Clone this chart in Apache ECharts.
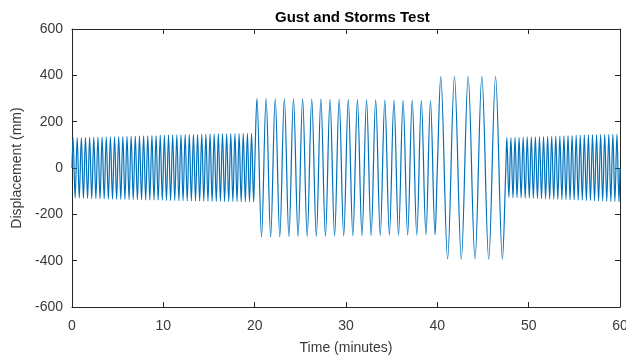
<!DOCTYPE html>
<html>
<head>
<meta charset="UTF-8">
<title>Gust and Storms Test</title>
<script src="https://cdn.jsdelivr.net/npm/echarts@6/dist/echarts.min.js"></script>
<style>
  html, body { margin: 0; padding: 0; background: #fff; }
  #main { width: 626px; height: 358px; }
</style>
</head>
<body>
<div id="main"></div>
<script>
// segments of the test (minutes)
var segStart = [0, 20, 40, 47.5];
var segEnd = [20, 40, 47.5, 60];

// peak / trough displacement of each cycle (mm)
var seg1Peaks = [130,131,131,132,132,133,133,134,134,135,135,136,136,137,137,138,138,139,139,140,
                 140,141,141,142,142,143,143,144,144,145,145,146,146,147,147,148,148,148,149,149,
                 149,150,150,150];
var seg1Troughs = [-130,-130,-131,-131,-132,-132,-133,-133,-134,-134,-135,-135,-135,-136,-136,-137,-137,-138,-138,-138,
                   -139,-139,-140,-140,-140,-141,-141,-142,-142,-142,-143,-143,-143,-144,-144,-144,-145,-145,-145,-145,
                   -146,-146,-146,-146];
var seg2Peaks = [300,300,299,299,298,298,297,297,296,296,295,295,294,294,293,293,292,292,291,290];
var seg2Troughs = [-297,-297,-296,-296,-295,-295,-294,-294,-293,-293,-292,-292,-291,-291,-290,-290,-289,-289,-288,-288];
var seg3Peaks = [395,396,395,396,395];
var seg3Troughs = [-392,-393,-392,-393,-393];
var seg4Peaks = [131,131,132,132,133,134,134,135,135,136,137,137,138,138,139,140,140,141,141,142,
                 143,143,144,144,145,145,146,146];
var seg4Troughs = [-127,-128,-128,-129,-130,-130,-131,-132,-132,-133,-134,-134,-135,-136,-136,-137,-138,-138,-139,-140,
                   -140,-141,-142,-142,-143,-144,-144,-145];

var xTicks = [0, 10, 20, 30, 40, 50, 60];
var yTicks = [-600, -400, -200, 0, 200, 400, 600];

var peaks = [seg1Peaks, seg2Peaks, seg3Peaks, seg4Peaks];
var troughs = [seg1Troughs, seg2Troughs, seg3Troughs, seg4Troughs];

// one point per peak and trough, cycles evenly spread over each segment
var points = [[segStart[0], 0]];
for (var s = 0; s < segStart.length; s++) {
    var n = peaks[s].length;
    var p = (segEnd[s] - segStart[s]) / n;
    for (var k = 0; k < n; k++) {
        points.push([segStart[s] + (k + 0.25) * p, peaks[s][k]]);
        points.push([segStart[s] + (k + 0.75) * p, troughs[s][k]]);
    }
    points.push([segEnd[s], 0]);
}

var axisColor = '#262626';
var textColor = '#3a3a3a';
var font = 'Liberation Sans, Arial, sans-serif';

function baseAxis(ticks) {
    return {
        type: 'value',
        min: ticks[0],
        max: ticks[ticks.length - 1],
        interval: ticks[1] - ticks[0],
        splitLine: { show: false },
        axisLine: { show: true, onZero: false, lineStyle: { color: axisColor, width: 1 } },
        axisTick: { show: true, inside: true, length: 5, lineStyle: { color: axisColor } }
    };
}

var xMain = baseAxis(xTicks);
xMain.position = 'bottom';
xMain.axisLabel = { color: textColor, fontSize: 14, fontFamily: font, margin: 12 };
xMain.name = 'Time (minutes)';
xMain.nameLocation = 'middle';
xMain.nameGap = 34;
xMain.nameTextStyle = { color: textColor, fontSize: 14, fontFamily: font };

var xTop = baseAxis(xTicks);
xTop.position = 'top';
xTop.axisLabel = { show: false };

var yMain = baseAxis(yTicks);
yMain.position = 'left';
yMain.axisLabel = { color: textColor, fontSize: 14, fontFamily: font, margin: 9 };
yMain.name = 'Displacement (mm)';
yMain.nameLocation = 'middle';
yMain.nameGap = 42;
yMain.nameTextStyle = { color: textColor, fontSize: 14, fontFamily: font };

var yRight = baseAxis(yTicks);
yRight.position = 'right';
yRight.axisLabel = { show: false };

var option = {
    animation: false,
    backgroundColor: '#fff',
    title: {
        text: 'Gust and Storms Test',
        left: 270,
        top: 5,
        textStyle: { color: '#000', fontSize: 15, fontWeight: 'bold', fontFamily: font }
    },
    grid: { left: 72, right: 6, top: 29, bottom: 51, outerBoundsMode: 'none' },
    xAxis: [xMain, xTop],
    yAxis: [yMain, yRight],
    series: [{
        type: 'line',
        data: points,
        xAxisIndex: 0,
        yAxisIndex: 0,
        showSymbol: false,
        smooth: 0.36,
        lineStyle: { color: '#0072BD', width: 1.2 }
    }]
};

var myChart = echarts.init(document.getElementById('main'));
myChart.setOption(option);
</script>
</body>
</html>
